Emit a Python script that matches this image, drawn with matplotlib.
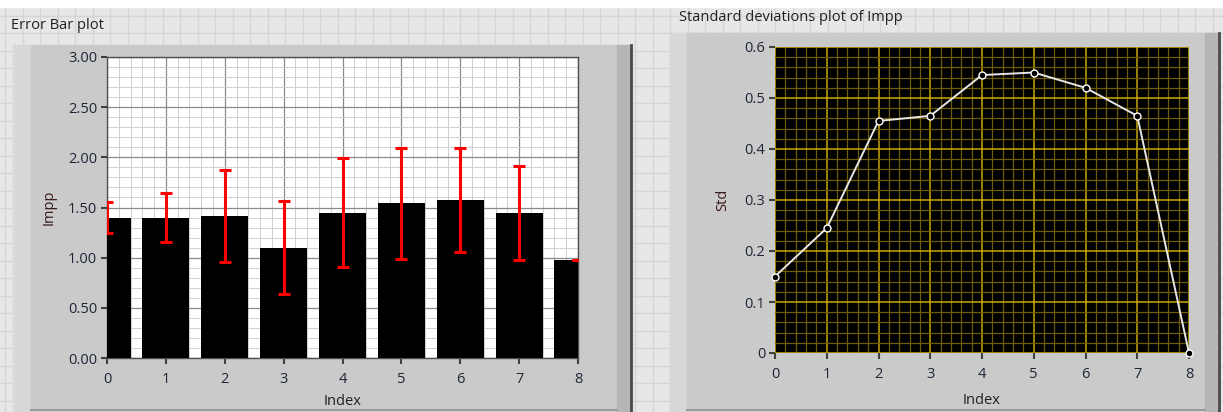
"""
LabVIEW-style front panel: error bar plot of Impp and its standard deviations.
"""
import numpy as np
import matplotlib
matplotlib.use("Agg")
import matplotlib.pyplot as plt
import matplotlib.patches as mpatches
from matplotlib.ticker import MultipleLocator, FormatStrFormatter

# data
index = [0, 1, 2, 3, 4, 5, 6, 7, 8]
impp_mean = [1.40, 1.40, 1.415, 1.10, 1.45, 1.54, 1.575, 1.445, 0.98]
impp_std = [0.15, 0.245, 0.455, 0.465, 0.545, 0.55, 0.52, 0.465, 0.0]

W, H = 1223, 412
plt.rcParams["font.family"] = ["Open Sans", "DejaVu Sans"]
TXT = "#1E2636"
FS = 10.5


def box(x0, y0, x1, y1):
    # pixel box (top-left origin) -> figure fraction rect
    return [x0 / W, 1 - y1 / H, (x1 - x0) / W, (y1 - y0) / H]


def style_ticks(a):
    a.tick_params(which="minor", length=0)
    a.tick_params(which="major", length=4, width=1.5, color="#404040",
                  labelsize=FS, labelcolor=TXT)
    a.tick_params(axis="x", which="major", pad=6)
    a.tick_params(axis="y", which="major", pad=3)


def main():
    fig = plt.figure(figsize=(W / 100, H / 100), dpi=100)

    # panel background with the LabVIEW grid
    bg = fig.add_axes([0, 0, 1, 1])
    bg.set_xlim(0, W)
    bg.set_ylim(H, 0)
    bg.axis("off")
    bg.add_patch(mpatches.Rectangle((0, 0), W, H, color="#E7E7E7", zorder=0))
    for gx in np.arange(5, W, 17.5):
        bg.plot([gx, gx], [0, H], color="#D5D5D5", lw=1, zorder=1)
    for gy in np.arange(15.5, H, 17.5):
        bg.plot([0, W], [gy, gy], color="#D5D5D5", lw=1, zorder=1)
    bg.add_patch(mpatches.Rectangle((0, 0), W, 7, color="white", zorder=2))

    # graph frames (3D look)
    for (x0, x1, y0, xin) in [(13, 632, 45, 31), (670, 1220, 33, 687)]:
        bg.add_patch(mpatches.Rectangle((x0, y0), x1 - x0, H - y0, color="#D8D8D8", zorder=3))
        bg.add_patch(mpatches.Rectangle((xin, y0), x1 - 15 - xin, H - y0 - 2, color="#CACACA", zorder=4))
        bg.add_patch(mpatches.Rectangle((x1 - 15, y0), 13, H - y0, color="#B6B6B6", zorder=4))
        bg.plot([x1 - 1, x1 - 1], [y0, H], color="#4A4A4A", lw=2, zorder=5)
        bg.plot([xin, x1 - 15], [H - 2, H - 2], color="#9A9A9A", lw=1.5, zorder=5)

    bg.text(11, 25, "Error Bar plot", fontsize=FS, color="#202020", va="center", ha="left", zorder=6)
    bg.text(679, 17, "Standard deviations plot of Impp", fontsize=FS, color="#202020",
            va="center", ha="left", zorder=6)

    # left: bars with error bars
    ax = fig.add_axes(box(107, 57, 578, 358))
    ax.set_facecolor("white")
    ax.bar(index, impp_mean, width=0.8, color="black", zorder=3)
    ax.errorbar(index, impp_mean, yerr=impp_std, fmt="none", ecolor="#FF0000",
                elinewidth=2.2, capsize=4.5, capthick=2.2, zorder=4)
    ax.set_xlim(0, 8)
    ax.set_ylim(0, 3)
    ax.xaxis.set_major_locator(MultipleLocator(1))
    ax.xaxis.set_minor_locator(MultipleLocator(0.2))
    ax.yaxis.set_major_locator(MultipleLocator(0.5))
    ax.yaxis.set_minor_locator(MultipleLocator(0.1))
    ax.yaxis.set_major_formatter(FormatStrFormatter("%.2f"))
    ax.grid(which="minor", color="#CFCFCF", lw=0.7, zorder=1)
    ax.grid(which="major", color="#8A8A8A", lw=0.9, zorder=2)
    ax.set_axisbelow(True)
    for s in ax.spines.values():
        s.set_color("#505050")
        s.set_linewidth(1)
    style_ticks(ax)
    ax.set_xlabel("Index", fontsize=FS, color="#202020", labelpad=5)
    ax.set_ylabel("Impp", fontsize=FS, color="#3A1A1A", labelpad=8)

    # right: std line plot
    ax2 = fig.add_axes(box(775, 47, 1189, 353))
    ax2.set_facecolor("black")
    ax2.plot(index, impp_std, color="#E6E6E6", lw=1.4, marker="o", markersize=5,
             markerfacecolor="black", markeredgecolor="white", markeredgewidth=1,
             zorder=4, clip_on=False)
    ax2.set_xlim(0, 8)
    ax2.set_ylim(0, 0.6)
    ax2.xaxis.set_major_locator(MultipleLocator(1))
    ax2.xaxis.set_minor_locator(MultipleLocator(0.2))
    ax2.yaxis.set_major_locator(MultipleLocator(0.1))
    ax2.yaxis.set_minor_locator(MultipleLocator(0.02))
    ax2.yaxis.set_major_formatter(FormatStrFormatter("%g"))
    ax2.grid(which="minor", color="#6E5C00", lw=0.9, zorder=1)
    ax2.grid(which="major", color="#C9A800", lw=1.1, zorder=2)
    ax2.set_axisbelow(True)
    for s in ax2.spines.values():
        s.set_visible(False)
    style_ticks(ax2)
    ax2.set_xlabel("Index", fontsize=FS, color="#202020", labelpad=8)
    ax2.set_ylabel("Std", fontsize=FS, color="#3A1A1A", labelpad=10)

    fig.savefig("out.png", dpi=100)


if __name__ == "__main__":
    main()
